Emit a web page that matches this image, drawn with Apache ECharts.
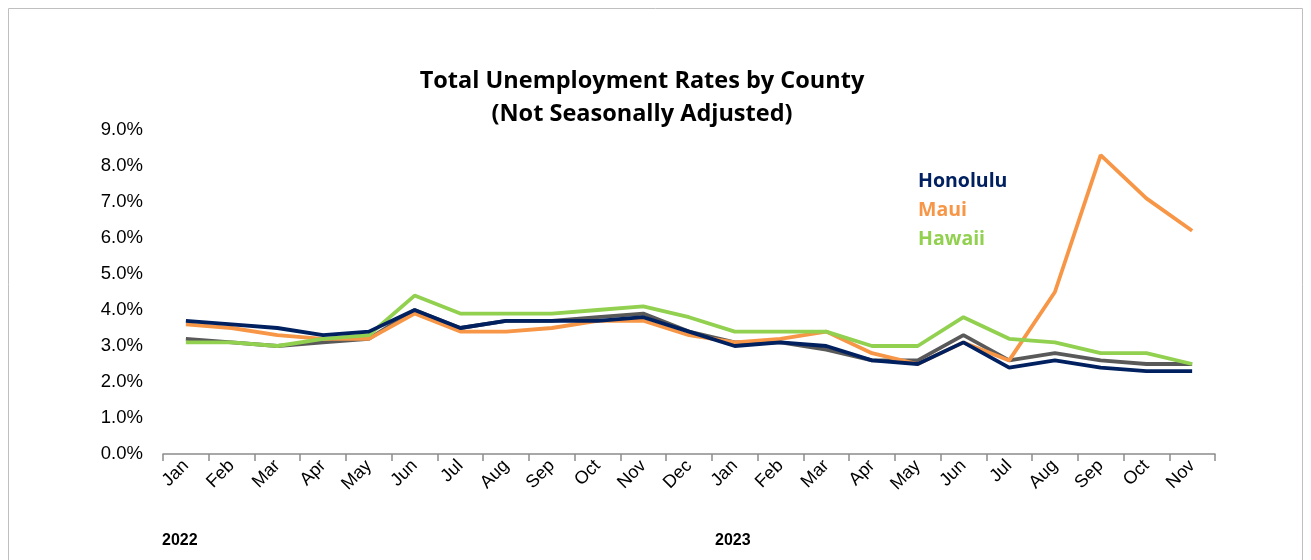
<!DOCTYPE html>
<html><head><meta charset="utf-8">
<script src="https://cdn.jsdelivr.net/npm/echarts@6/dist/echarts.min.js"></script>
<style>html,body{margin:0;padding:0;background:#fff}#c{width:1311px;height:560px}</style>
</head><body><div id="c"></div>
<script>
const categories = ['Jan','Feb','Mar','Apr','May','Jun','Jul','Aug','Sep','Oct','Nov','Dec',
  'Jan','Feb','Mar','Apr','May','Jun','Jul','Aug','Sep','Oct','Nov'];
const honolulu = [3.7,3.6,3.5,3.3,3.4,4.0,3.5,3.7,3.7,3.7,3.8,3.4,3.0,3.1,3.0,2.6,2.5,3.1,2.4,2.6,2.4,2.3,2.3];
const maui     = [3.6,3.5,3.3,3.2,3.2,3.9,3.4,3.4,3.5,3.7,3.7,3.3,3.1,3.2,3.4,2.8,2.5,3.1,2.6,4.5,8.3,7.1,6.2];
const hawaii   = [3.1,3.1,3.0,3.2,3.3,4.4,3.9,3.9,3.9,4.0,4.1,3.8,3.4,3.4,3.4,3.0,3.0,3.8,3.2,3.1,2.8,2.8,2.5];
const state    = [3.2,3.1,3.0,3.1,3.2,4.0,3.5,3.7,3.7,3.8,3.9,3.4,3.1,3.1,2.9,2.6,2.6,3.3,2.6,2.8,2.6,2.5,2.5];
const yearLabels = ['2022','2023'];

const chart = echarts.init(document.getElementById('c'));
const lw = 3.8;
chart.setOption({
  animation: false,
  title: {
    text: 'Total Unemployment Rates by County\n(Not Seasonally Adjusted)',
    left: 637, top: 60, textAlign: 'center',
    textStyle: {fontFamily: 'Open Sans', fontWeight: 'bold', fontSize: 23.5, lineHeight: 33, color: '#000'}
  },
  legend: {
    orient: 'vertical', left: 908, top: 166, icon: 'none', itemGap: 9, itemWidth: 0,
    textStyle: {fontFamily: 'Open Sans', fontWeight: 'bold', fontSize: 19.5, padding: [0,0,0,0]},
    data: [
      {name: 'Honolulu', textStyle: {color: '#002060'}},
      {name: 'Maui', textStyle: {color: '#F79646'}},
      {name: 'Hawaii', textStyle: {color: '#92D050'}}
    ],
    selectedMode: false
  },
  grid: {left: 163, right: 96, top: 130, bottom: 106, containLabel: false},
  xAxis: {
    type: 'category', data: categories, boundaryGap: true,
    axisLine: {lineStyle: {color: '#8c8c8c', width: 1.5}},
    axisTick: {show: true, length: 7, lineStyle: {color: '#8c8c8c', width: 1.5}},
    axisLabel: {rotate: 45, interval: 0, margin: 9, fontFamily: 'Liberation Sans', fontSize: 18, color: '#000'}
  },
  yAxis: {
    type: 'value', min: 0, max: 9, interval: 1,
    axisLine: {show: false}, axisTick: {show: false}, splitLine: {show: false},
    axisLabel: {formatter: v => v.toFixed(1) + '%', margin: 20, fontFamily: 'Liberation Sans', fontSize: 18.5, color: '#000'}
  },
  series: [
    {name: 'State', type: 'line', data: state, symbol: 'none', lineStyle: {color: '#595959', width: lw}, itemStyle: {color: '#595959'}, z: 1},
    {name: 'Maui', type: 'line', data: maui, symbol: 'none', lineStyle: {color: '#F79646', width: lw}, itemStyle: {color: '#F79646'}, z: 2},
    {name: 'Hawaii', type: 'line', data: hawaii, symbol: 'none', lineStyle: {color: '#92D050', width: lw}, itemStyle: {color: '#92D050'}, z: 3},
    {name: 'Honolulu', type: 'line', data: honolulu, symbol: 'none', lineStyle: {color: '#002060', width: lw}, itemStyle: {color: '#002060'}, z: 4}
  ],
  graphic: [
    {type: 'rect', shape: {x: 8.5, y: 8.5, width: 1294, height: 560}, style: {fill: 'none', stroke: '#bfbfbf', lineWidth: 1}, silent: true},
    {type: 'text', left: 162, top: 533, style: {text: yearLabels[0], font: 'bold 16px "Liberation Sans"', fill: '#000'}},
    {type: 'text', left: 715, top: 533, style: {text: yearLabels[1], font: 'bold 16px "Liberation Sans"', fill: '#000'}}
  ]
});
</script></body></html>
